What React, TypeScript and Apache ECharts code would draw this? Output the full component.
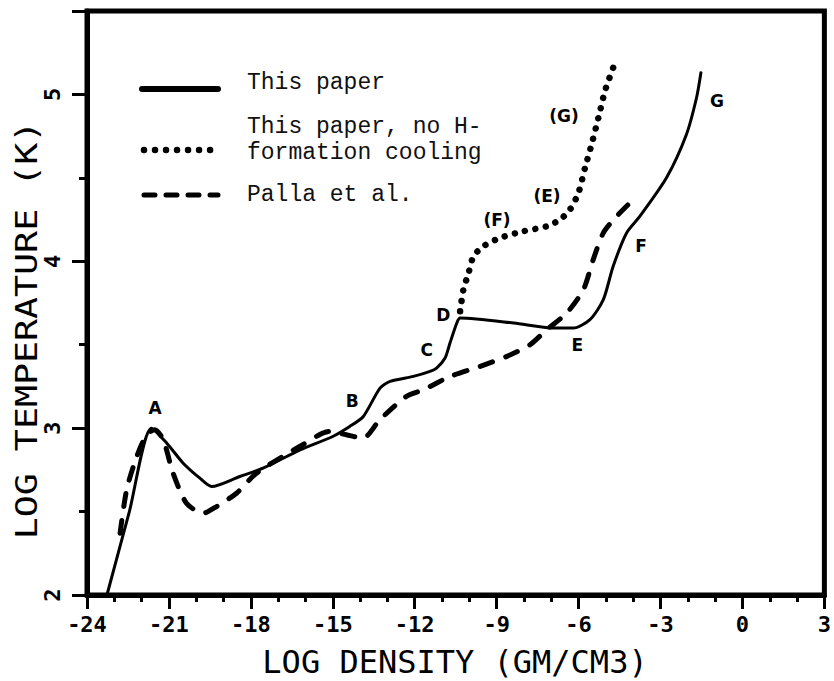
import React, { useEffect, useRef } from "react";
import * as echarts from "echarts";

// x: log density (gm/cm3), y: log temperature (K)
const xTicks = [-24, -21, -18, -15, -12, -9, -6, -3, 0, 3];
const yTicks = [2, 3, 4, 5];
const yMax = 5.5;

const thisPaper: [number, number][] = [
  [-23.27, 2.0], [-22.45, 2.5], [-21.64, 3.0], [-21.08, 2.91], [-20.48, 2.79],
  [-19.87, 2.70], [-19.44, 2.65], [-18.41, 2.71], [-17.56, 2.76], [-16.2, 2.87],
  [-15.01, 2.95], [-14.39, 3.01], [-13.89, 3.07], [-13.28, 3.24], [-12.91, 3.28],
  [-12.06, 3.31], [-11.45, 3.34], [-11.21, 3.36], [-10.9, 3.42], [-10.72, 3.51],
  [-10.47, 3.63], [-10.35, 3.66], [-8.38, 3.63], [-6.94, 3.60], [-6.21, 3.60],
  [-5.60, 3.65], [-5.11, 3.77], [-4.75, 3.97], [-4.26, 4.17], [-3.77, 4.27],
  [-2.80, 4.50], [-2.07, 4.76], [-1.70, 4.98], [-1.54, 5.13],
];

const noHCooling: [number, number][] = [
  [-10.35, 3.70], [-10.23, 3.83], [-10.04, 3.93], [-9.86, 4.03], [-9.5, 4.09],
  [-8.89, 4.14], [-8.03, 4.18], [-7.18, 4.21], [-6.69, 4.25], [-6.33, 4.31],
  [-6.02, 4.41], [-5.78, 4.56], [-5.54, 4.70], [-5.29, 4.86], [-5.05, 5.02],
  [-4.75, 5.16],
];

const palla: [number, number][] = [
  [-22.79, 2.37], [-22.55, 2.63], [-22.18, 2.83], [-21.82, 2.96], [-21.52, 2.99],
  [-21.21, 2.93], [-20.85, 2.73], [-20.36, 2.55], [-19.75, 2.49], [-19.26, 2.53],
  [-18.53, 2.61], [-17.80, 2.73], [-16.22, 2.89], [-15.12, 2.98], [-14.51, 2.96],
  [-13.9, 2.94], [-13.29, 3.05], [-12.32, 3.19], [-11.69, 3.23], [-10.71, 3.31],
  [-9.62, 3.37], [-8.64, 3.43], [-7.79, 3.50], [-7.18, 3.59], [-6.45, 3.69],
  [-5.84, 3.83], [-5.48, 4.01], [-5.11, 4.17], [-4.62, 4.27], [-3.89, 4.39],
];

const pointLabels: [number, number, string][] = [
  [-21.51, 3.12, "A"], [-14.30, 3.16, "B"], [-11.57, 3.47, "C"], [-10.96, 3.68, "D"],
  [-6.06, 3.50, "E"], [-3.73, 4.09, "F"], [-0.95, 4.96, "G"],
  [-6.55, 4.87, "(G)"], [-7.17, 4.39, "(E)"], [-9.0, 4.25, "(F)"],
];

const legendNames = ["This paper", "This paper, no H-", "formation cooling", "Palla et al."];
const xTitle = "LOG DENSITY (GM/CM3)";
const yTitle = "LOG TEMPERATURE (K)";

const tickFont = { fontFamily: "DejaVu Sans Mono", fontWeight: "bold" as const, fontSize: 22, color: "#000" };
const gridBox = { left: 87, right: 9, top: 11, bottom: 86 };

// Bottom layer: frame, axes, ticks, tick labels only
function axesOption(): any {
  return {
    animation: false,
    backgroundColor: "#fff",
    grid: { ...gridBox, show: true, borderColor: "#000", borderWidth: 5 },
    xAxis: {
      type: "value", min: xTicks[0], max: xTicks[xTicks.length - 1], interval: 3,
      axisLine: { show: true, onZero: false, lineStyle: { color: "#000", width: 5 } },
      axisTick: { show: true, length: 14, lineStyle: { width: 3, color: "#000" } },
      minorTick: { show: true, splitNumber: 3, length: 7, lineStyle: { width: 3, color: "#000" } },
      splitLine: { show: false }, minorSplitLine: { show: false },
      axisLabel: { margin: 18, ...tickFont },
    },
    yAxis: [
      {
        type: "value", min: yTicks[0], max: yMax, interval: 1, position: "left",
        axisLine: { show: true, onZero: false, lineStyle: { color: "#000", width: 5 } },
        axisTick: { show: true, length: 15, lineStyle: { width: 3, color: "#000" } },
        splitLine: { show: false },
        axisLabel: { rotate: 90, margin: 24, ...tickFont, formatter: (v: number) => (yTicks.includes(v) ? String(v) : "") },
      },
      {
        type: "value", min: yTicks[0], max: yMax, interval: 0.5, position: "left",
        axisLine: { show: true, onZero: false, lineStyle: { color: "#000", width: 1 } },
        axisTick: { show: true, length: 8, lineStyle: { width: 3, color: "#000" } },
        splitLine: { show: false }, axisLabel: { show: false },
      },
    ],
    series: [{ type: "line", data: [], yAxisIndex: 0 }],
  };
}

// Top layer: curves, point letters, legend, axis titles
function seriesOption(): any {
  const legendFont = "23px 'Liberation Mono', 'Courier New', monospace";
  const hidden = { show: false };
  return {
    animation: false,
    backgroundColor: "transparent",
    grid: { ...gridBox, show: false },
    xAxis: { type: "value", min: xTicks[0], max: xTicks[xTicks.length - 1], interval: 3, axisLine: { show: false, onZero: false }, axisTick: hidden, axisLabel: hidden, splitLine: hidden },
    yAxis: { type: "value", min: yTicks[0], max: yMax, interval: 1, axisLine: { show: false, onZero: false }, axisTick: hidden, axisLabel: hidden, splitLine: hidden },
    series: [
      {
        name: legendNames[0], type: "line", data: thisPaper, showSymbol: false, symbol: "none",
        smooth: 0.25, lineStyle: { color: "#000", width: 3, cap: "round", join: "round" },
      },
      {
        name: legendNames[1], type: "line", data: noHCooling, showSymbol: false, symbol: "none",
        smooth: 0.25, lineStyle: { color: "#000", width: 6.5, type: [0.01, 10.5], cap: "round" },
      },
      {
        name: legendNames[3], type: "line", data: palla, showSymbol: false, symbol: "none",
        smooth: 0.25, lineStyle: { color: "#000", width: 5, type: [13, 14], cap: "round" },
      },
      {
        type: "scatter", data: pointLabels, symbolSize: 0, silent: true,
        itemStyle: { color: "#000", opacity: 1 },
        label: {
          show: true, position: "inside", formatter: (p: any) => p.data[2],
          fontFamily: "DejaVu Sans", fontWeight: "bold", fontSize: 17, color: "#000",
          textBorderWidth: 0, opacity: 1,
        },
      },
    ],
    graphic: [
      { type: "line", shape: { x1: 142, y1: 89, x2: 218, y2: 89 }, style: { stroke: "#000", lineWidth: 6, lineCap: "round" } },
      { type: "line", shape: { x1: 144, y1: 150, x2: 218, y2: 150 }, style: { stroke: "#000", lineWidth: 6.5, lineCap: "round", lineDash: [0.01, 11] } },
      { type: "line", shape: { x1: 144, y1: 195, x2: 218, y2: 195 }, style: { stroke: "#000", lineWidth: 5, lineCap: "round", lineDash: [11, 11] } },
      { type: "text", x: 247, y: 83, style: { text: legendNames[0], font: legendFont, fill: "#111", verticalAlign: "middle" } },
      { type: "text", x: 247, y: 127, style: { text: legendNames[1], font: legendFont, fill: "#111", verticalAlign: "middle" } },
      { type: "text", x: 247, y: 153, style: { text: legendNames[2], font: legendFont, fill: "#111", verticalAlign: "middle" } },
      { type: "text", x: 247, y: 195, style: { text: legendNames[3], font: legendFont, fill: "#111", verticalAlign: "middle" } },
      {
        type: "text", x: 455, y: 662,
        style: { text: xTitle, font: "32px 'DejaVu Sans Mono'", fill: "#000", align: "center", verticalAlign: "middle" },
      },
      {
        type: "text", x: 27, y: 330, rotation: Math.PI / 2, scaleX: 1.22,
        style: { text: yTitle, font: "30px 'DejaVu Sans Mono'", fill: "#000", align: "center", verticalAlign: "middle" },
      },
    ],
  };
}

export default function App() {
  const axesRef = useRef<HTMLDivElement>(null);
  const plotRef = useRef<HTMLDivElement>(null);
  useEffect(() => {
    if (!axesRef.current || !plotRef.current) return;
    const axesChart = echarts.init(axesRef.current, undefined, { renderer: "svg" });
    axesChart.setOption(axesOption());
    const plotChart = echarts.init(plotRef.current, undefined, { renderer: "svg" });
    plotChart.setOption(seriesOption());
    return () => {
      plotChart.dispose();
      axesChart.dispose();
    };
  }, []);
  const layer: React.CSSProperties = { position: "absolute", left: 0, top: 0, width: 834, height: 681 };
  return (
    <div style={{ position: "fixed", left: 0, top: 0, width: 834, height: 681, background: "#fff" }}>
      <div ref={axesRef} style={layer} />
      <div ref={plotRef} style={layer} />
    </div>
  );
}
